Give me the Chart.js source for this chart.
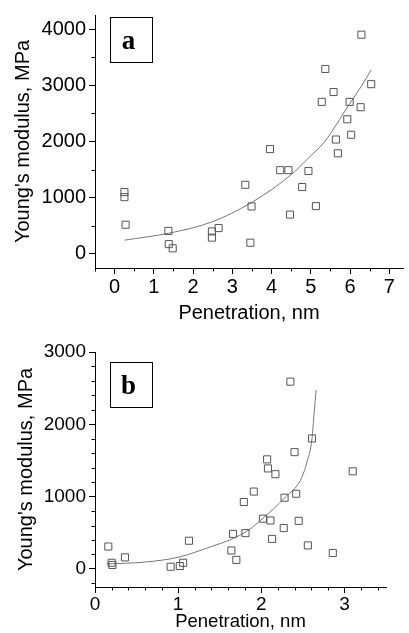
<!DOCTYPE html>
<html>
<head>
<meta charset="utf-8">
<script src="https://cdn.jsdelivr.net/npm/chart.js@4"></script>
<style>
body { margin: 0; background: #fff; }
#wrap { position: relative; width: 409px; height: 633px; overflow: hidden; background: #fff; }
canvas { position: absolute; left: 0; }
#chartA { top: 0; }
#chartB { top: 318px; }
</style>
</head>
<body>
<div id="wrap">
<canvas id="chartA" width="409" height="330"></canvas>
<canvas id="chartB" width="409" height="315"></canvas>
</div>
<script>
// panel a
const penetrationA = [0.25, 0.25, 0.28, 1.37, 1.38, 1.48, 2.48, 2.48, 2.65, 3.33, 3.49, 3.46, 3.96, 4.22, 4.43, 4.47, 4.78, 4.94, 5.13, 5.28, 5.37, 5.58, 5.64, 5.69, 5.93, 5.99, 6.03, 6.27, 6.29, 6.54];
const modulusA = [1100, 1010, 520, 410, 175, 100, 400, 290, 460, 1230, 845, 200, 1865, 1490, 1490, 700, 1190, 1475, 850, 2705, 3290, 2880, 2035, 1790, 2395, 2705, 2120, 2610, 3900, 3020];
const fitPenetrationA = [0.25, 1.37, 2.48, 3.49, 4.5, 4.96, 5.35, 5.96, 6.29, 6.54];
const fitModulusA = [245, 367, 570, 915, 1410, 1720, 1995, 2640, 2985, 3275];
const xTicksA = [0, 1, 2, 3, 4, 5, 6, 7];
const yTicksA = [0, 1000, 2000, 3000, 4000];

// panel b
const penetrationB = [0.16, 0.20, 0.21, 0.36, 0.91, 1.02, 1.06, 1.13, 1.64, 1.66, 1.70, 1.79, 1.81, 1.91, 2.02, 2.07, 2.08, 2.11, 2.13, 2.17, 2.27, 2.28, 2.35, 2.40, 2.42, 2.45, 2.56, 2.61, 2.86, 3.10];
const modulusB = [310, 85, 55, 160, 30, 40, 85, 390, 255, 485, 125, 925, 495, 1070, 695, 1515, 1390, 670, 415, 1310, 565, 985, 2590, 1615, 1040, 665, 325, 1805, 220, 1350];
const fitPenetrationB = [0.14, 0.60, 1.00, 1.40, 1.62, 1.85, 2.02, 2.15, 2.29, 2.47, 2.55, 2.61, 2.635, 2.66];
const fitModulusB = [69, 95, 161, 310, 400, 540, 702, 832, 994, 1225, 1479, 1803, 2150, 2473];
const xTicksB = [0, 1, 2, 3];
const yTicksB = [0, 1000, 2000, 3000];

const xTitle = "Penetration, nm";
const yTitle = "Young's modulus, MPa";

Chart.defaults.font.family = "'Liberation Sans', Arial, sans-serif";
Chart.defaults.color = "#000";

function toPoints(xs, ys) {
    return xs.map((x, i) => ({ x: x, y: ys[i] }));
}

// short minor ticks between the labelled ones
const minorTicks = {
    id: "minorTicks",
    afterDraw(chart, args, opts) {
        const ctx = chart.ctx;
        ctx.save();
        ctx.strokeStyle = "#000";
        ctx.lineWidth = 1;
        ["x", "y"].forEach((id) => {
            const scale = chart.scales[id];
            const step = opts[id];
            const every = Math.round(opts[id + "Major"] / step);
            const first = Math.ceil(scale.min / step);
            const last = Math.floor(scale.max / step);
            for (let i = first; i <= last; i++) {
                if (i % every === 0) continue;
                const p = Math.round(scale.getPixelForValue(i * step)) + 0.5;
                ctx.beginPath();
                if (id === "x") {
                    ctx.moveTo(p, chart.chartArea.bottom);
                    ctx.lineTo(p, chart.chartArea.bottom + opts.len);
                } else {
                    ctx.moveTo(chart.chartArea.left, p);
                    ctx.lineTo(chart.chartArea.left - opts.len, p);
                }
                ctx.stroke();
            }
        });
        ctx.restore();
    }
};

// boxed panel letter
const panelLabel = {
    id: "panelLabel",
    afterDraw(chart, args, opts) {
        const ctx = chart.ctx;
        const left = chart.chartArea.left + opts.dx;
        const top = chart.chartArea.top + opts.dy;
        ctx.save();
        ctx.strokeStyle = "#000";
        ctx.lineWidth = 1;
        ctx.strokeRect(left + 0.5, top + 0.5, opts.w, opts.h);
        ctx.fillStyle = "#000";
        ctx.font = "bold 27px 'Liberation Serif', 'Times New Roman', serif";
        ctx.textAlign = "center";
        ctx.textBaseline = "alphabetic";
        ctx.fillText(opts.text, left + 18.5, top + 32);
        ctx.restore();
    }
};

function makeChart(canvas, s) {
    return new Chart(canvas, {
        type: "scatter",
        data: {
            datasets: [
                {
                    data: toPoints(s.xs, s.ys),
                    pointStyle: "rect",
                    pointRadius: 5,
                    borderColor: "#555",
                    backgroundColor: "rgba(0,0,0,0)",
                    borderWidth: 1
                },
                {
                    type: "line",
                    data: toPoints(s.fitXs, s.fitYs),
                    showLine: true,
                    pointRadius: 0,
                    borderColor: "#777",
                    borderWidth: 1,
                    fill: false,
                    cubicInterpolationMode: "monotone"
                }
            ]
        },
        options: {
            responsive: false,
            animation: false,
            devicePixelRatio: 1,
            layout: { padding: { top: s.padTop, right: s.padRight, left: 0, bottom: 0 } },
            plugins: {
                legend: { display: false },
                tooltip: { enabled: false },
                minorTicks: { x: s.xMinor, xMajor: 1, y: s.yMinor, yMajor: 1000, len: 3.5 },
                panelLabel: { text: s.letter, dx: 15, dy: s.boxDy, w: 42, h: 45 }
            },
            scales: {
                x: {
                    type: "linear",
                    min: s.xMin,
                    max: s.xMax,
                    afterBuildTicks: (scale) => { scale.ticks = s.xTicks.map((v) => ({ value: v })); },
                    afterFit: (scale) => { scale.height = s.xHeight; },
                    border: { display: true, color: "#000", width: 1 },
                    grid: { drawOnChartArea: false, drawTicks: true, tickLength: 6, tickColor: "#000" },
                    ticks: {
                        padding: s.xTickPad,
                        maxRotation: 0,
                        autoSkip: false,
                        font: { size: s.tickFont },
                        callback: (v) => String(v)
                    },
                    title: {
                        display: true,
                        text: xTitle,
                        font: { size: s.xTitleFont },
                        padding: { top: 0, bottom: s.xTitlePad }
                    }
                },
                y: {
                    type: "linear",
                    min: s.yMin,
                    max: s.yMax,
                    afterBuildTicks: (scale) => { scale.ticks = s.yTicks.map((v) => ({ value: v })); },
                    afterFit: (scale) => { scale.width = 95; },
                    border: { display: true, color: "#000", width: 1 },
                    grid: { drawOnChartArea: false, drawTicks: true, tickLength: 6, tickColor: "#000" },
                    ticks: {
                        padding: 3,
                        autoSkip: false,
                        font: { size: s.tickFont },
                        callback: (v) => String(v)
                    },
                    title: {
                        display: true,
                        text: yTitle,
                        font: { size: s.yTitleFont },
                        padding: { top: s.yTitlePad, bottom: 0 }
                    }
                }
            }
        },
        plugins: [minorTicks, panelLabel]
    });
}

makeChart(document.querySelector("#chartA"), {
    xs: penetrationA, ys: modulusA, fitXs: fitPenetrationA, fitYs: fitModulusA,
    xTicks: xTicksA, yTicks: yTicksA,
    letter: "a", boxDy: 2,
    xMin: -0.5, xMax: 7.35, yMin: -250, yMax: 4250,
    xMinor: 0.5, yMinor: 500,
    padTop: 10, padRight: 0, xHeight: 62,
    tickFont: 20, xTitleFont: 20, yTitleFont: 20,
    xTickPad: 1, xTitlePad: 5, yTitlePad: 11
});

makeChart(document.querySelector("#chartB"), {
    xs: penetrationB, ys: modulusB, fitXs: fitPenetrationB, fitYs: fitModulusB,
    xTicks: xTicksB, yTicks: yTicksB,
    letter: "b", boxDy: 10,
    xMin: 0, xMax: 3.5, yMin: -250, yMax: 3000,
    xMinor: 0.2, yMinor: 200,
    padTop: 34, padRight: 23, xHeight: 46,
    tickFont: 19, xTitleFont: 18.5, yTitleFont: 20,
    xTickPad: 0, xTitlePad: 0, yTitlePad: 14
});
</script>
</body>
</html>
